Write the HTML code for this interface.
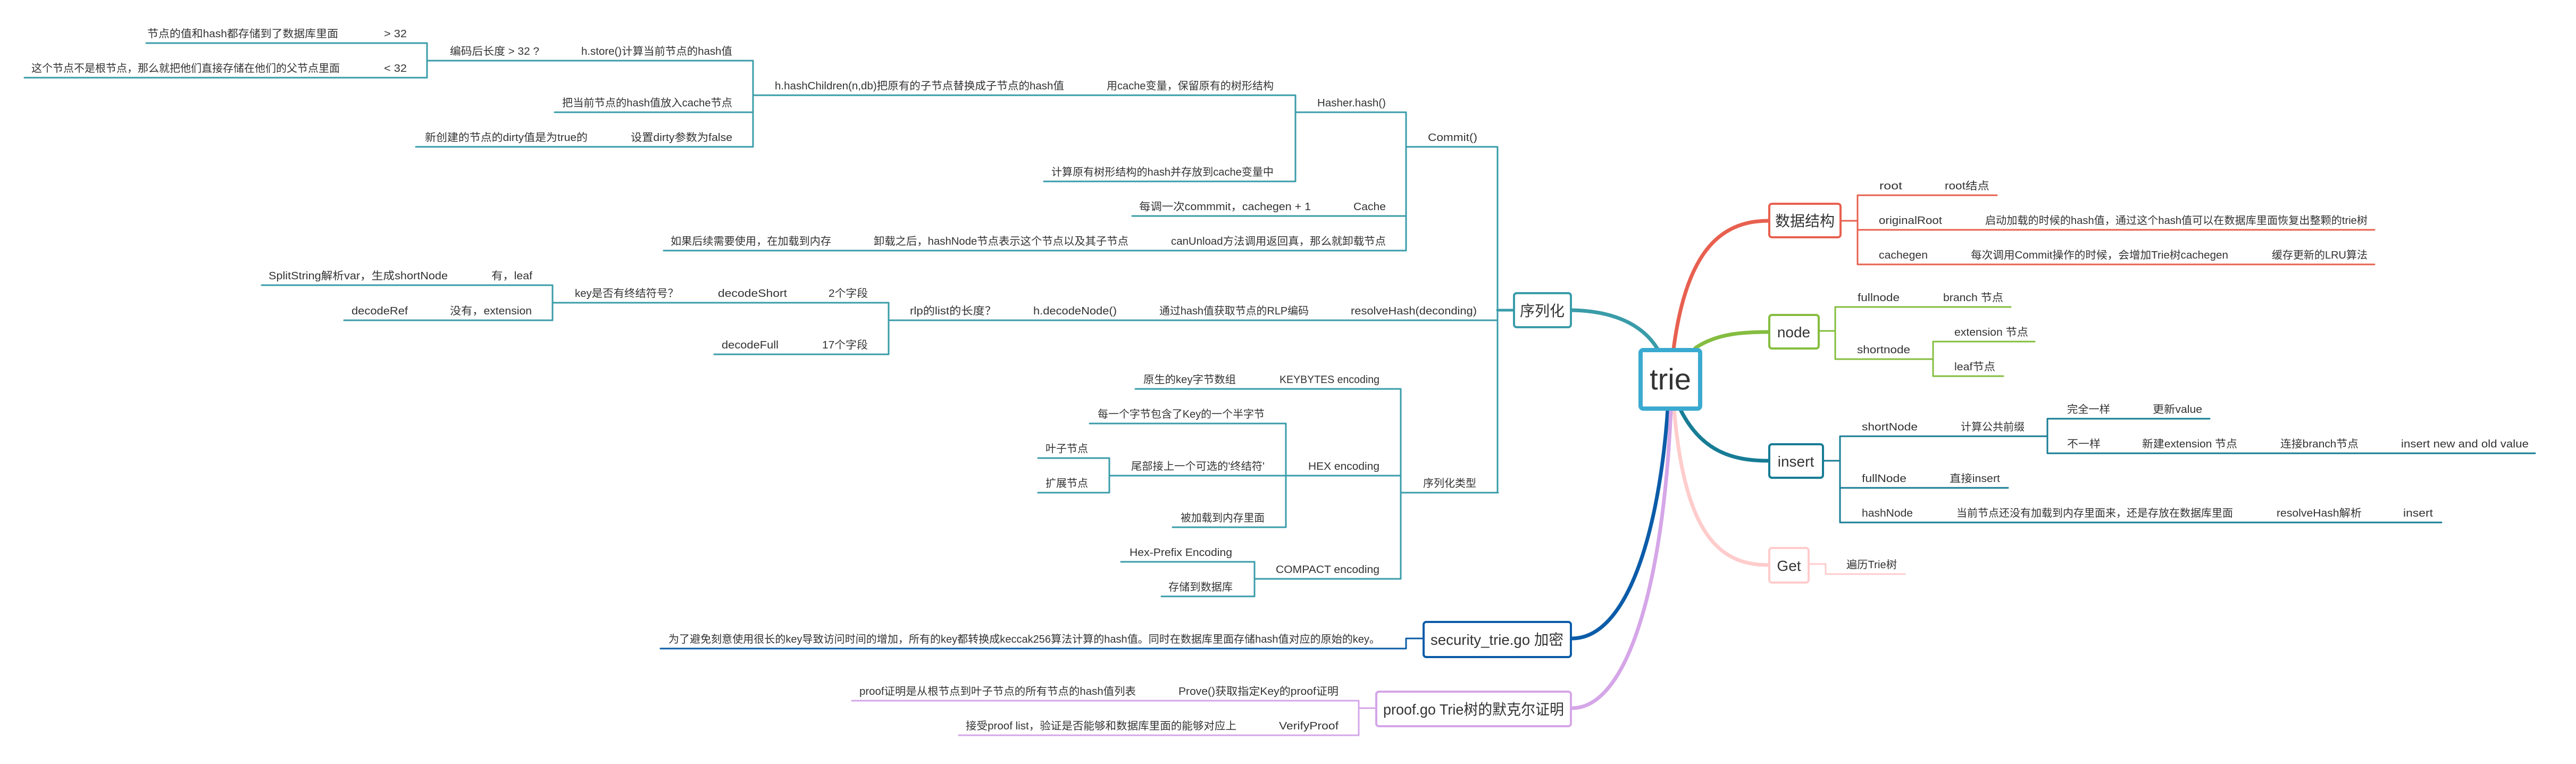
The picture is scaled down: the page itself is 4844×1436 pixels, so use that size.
<!DOCTYPE html>
<html><head><meta charset="utf-8"><style>
html,body{margin:0;padding:0;background:#fff;}
svg{display:block;}
text{font-family:"Liberation Sans","Noto Sans CJK SC",sans-serif;fill:#333;font-size:20px;}
.bx{font-size:28px;}
</style></head><body>
<svg width="4844" height="1436" viewBox="0 0 4844 1436" xmlns="http://www.w3.org/2000/svg">
<g fill="none" stroke-linecap="round" stroke-linejoin="round">
<!-- teal group -->
<g stroke="#3a9ca9" stroke-width="3">
<path d="M275,81H803M46,146H803M803,81V146M803,114H1416M1416,114V276M1416,179H2436M1043,211H1416M782,276H1416M2436,179V341M2436,211H2644M1963,341H2436M2644,211V471M2644,276H2816M2129,406H2644M1248,471H2644M2816,276V926"/>
<path d="M492,536H1039M647,602H1039M1039,536V602M1039,569H1671M1343,666H1671M1671,569V666M1671,602H2816"/>
<path d="M2135,731H2634M2634,731V1088M2049,796H2418M2418,796V991M2418,894H2634M2086,894H2418M1952,861H2086M1952,926H2086M2086,861V926M2205,991H2418M2108,1056H2359M2359,1056V1121M2359,1088H2634M2184,1121H2359M2634,926H2817"/>
<path d="M2816,583H2845" stroke-width="5"/>
</g>
<!-- security -->
<path d="M1242,1219H2644V1200H2675" stroke="#0b5ca8" stroke-width="3"/>
<!-- proof -->
<path d="M1602,1317H2555M1803,1382H2555M2555,1317V1382M2555,1331H2586" stroke="#d5a6e8" stroke-width="3"/>
<!-- red -->
<path d="M3463,415H3493M3493,367V497M3493,367H3755M3493,432H4465M3493,497H4465" stroke="#e8604f" stroke-width="3"/>
<!-- green -->
<path d="M3422,622H3451M3451,577V675M3451,577H3781M3451,675H3635M3635,642V707M3635,642H3826M3635,707H3767" stroke="#85bd40" stroke-width="3"/>
<!-- insert -->
<path d="M3430,866H3460M3460,820V982M3460,820H3850M3850,787V852M3850,787H4155M3850,852H4767M3460,917H3776M3460,982H4591" stroke="#177c95" stroke-width="3"/>
<!-- get -->
<path d="M3403,1060H3433V1079H3582" stroke="#ffcccc" stroke-width="3"/>
<!-- main curves -->
<path d="M2956,583C3050,585 3095,620 3117,656" stroke="#3a9ca9" stroke-width="7"/>
<path d="M3147,656C3170,480 3230,415 3325,415" stroke="#e8604f" stroke-width="7"/>
<path d="M3188,654C3230,626 3280,624 3325,624" stroke="#85bd40" stroke-width="7"/>
<path d="M3160,770C3200,850 3260,866 3325,866" stroke="#177c95" stroke-width="7"/>
<path d="M3148,770C3168,1000 3230,1062 3325,1062" stroke="#ffcccc" stroke-width="7"/>
<path d="M3136,770C3120,1000 3060,1200 2956,1200" stroke="#0b5ca8" stroke-width="7"/>
<path d="M3142,770C3128,1100 3060,1331 2956,1331" stroke="#d5a6e8" stroke-width="7"/>
</g>
<!-- boxes -->
<g stroke-width="4" fill="#fff">
<rect x="2847" y="551" width="107" height="64" rx="5" stroke="#3a9ca9"/>
<rect x="2677" y="1169" width="277" height="66" rx="5" stroke="#0b5ca8"/>
<rect x="2588" y="1300" width="366" height="65" rx="5" stroke="#d5a6e8"/>
<rect x="3327" y="383" width="134" height="63" rx="5" stroke="#e8604f"/>
<rect x="3327" y="592" width="93" height="63" rx="5" stroke="#85bd40"/>
<rect x="3327" y="835" width="101" height="63" rx="5" stroke="#177c95"/>
<rect x="3327" y="1030" width="74" height="65" rx="5" stroke="#ffcccc"/>
<rect x="3085" y="658" width="112" height="110" rx="5" stroke="#3aaad0" stroke-width="8"/>
</g>
<g text-anchor="middle">
<text class="bx" x="2900" y="594">序列化</text>
<text class="bx" x="2815" y="1212" textLength="250" lengthAdjust="spacingAndGlyphs">security_trie.go 加密</text>
<text class="bx" x="2771" y="1343" textLength="340" lengthAdjust="spacingAndGlyphs">proof.go Trie树的默克尔证明</text>
<text class="bx" x="3394" y="425">数据结构</text>
<text class="bx" x="3373" y="634">node</text>
<text class="bx" x="3377" y="877">insert</text>
<text class="bx" x="3364" y="1073">Get</text>
<text x="3141" y="732" style="font-size:56px">trie</text>
</g>
<g lengthAdjust="spacingAndGlyphs">
<text x="277" y="70" textLength="359" lengthAdjust="spacingAndGlyphs">节点的值和hash都存储到了数据库里面</text>
<text x="722" y="70" textLength="43" lengthAdjust="spacingAndGlyphs">&gt; 32</text>
<text x="59" y="135" textLength="580" lengthAdjust="spacingAndGlyphs">这个节点不是根节点，那么就把他们直接存储在他们的父节点里面</text>
<text x="722" y="135" textLength="43" lengthAdjust="spacingAndGlyphs">&lt; 32</text>
<text x="846" y="103" textLength="168" lengthAdjust="spacingAndGlyphs">编码后长度 &gt; 32 ?</text>
<text x="1093" y="103" textLength="284" lengthAdjust="spacingAndGlyphs">h.store()计算当前节点的hash值</text>
<text x="1457" y="168" textLength="544" lengthAdjust="spacingAndGlyphs">h.hashChildren(n,db)把原有的子节点替换成子节点的hash值</text>
<text x="2081" y="168" textLength="314" lengthAdjust="spacingAndGlyphs">用cache变量，保留原有的树形结构</text>
<text x="1057" y="200" textLength="320" lengthAdjust="spacingAndGlyphs">把当前节点的hash值放入cache节点</text>
<text x="799" y="265" textLength="306" lengthAdjust="spacingAndGlyphs">新创建的节点的dirty值是为true的</text>
<text x="1186" y="265" textLength="191" lengthAdjust="spacingAndGlyphs">设置dirty参数为false</text>
<text x="2477" y="200" textLength="129" lengthAdjust="spacingAndGlyphs">Hasher.hash()</text>
<text x="1977" y="330" textLength="418" lengthAdjust="spacingAndGlyphs">计算原有树形结构的hash并存放到cache变量中</text>
<text x="2685" y="265" textLength="93" lengthAdjust="spacingAndGlyphs">Commit()</text>
<text x="2142" y="395" textLength="323" lengthAdjust="spacingAndGlyphs">每调一次commmit，cachegen + 1</text>
<text x="2545" y="395" textLength="61" lengthAdjust="spacingAndGlyphs">Cache</text>
<text x="1261" y="460" textLength="302" lengthAdjust="spacingAndGlyphs">如果后续需要使用，在加载到内存</text>
<text x="1643" y="460" textLength="479" lengthAdjust="spacingAndGlyphs">卸载之后，hashNode节点表示这个节点以及其子节点</text>
<text x="2202" y="460" textLength="404" lengthAdjust="spacingAndGlyphs">canUnload方法调用返回真，那么就卸载节点</text>
<text x="505" y="525" textLength="337" lengthAdjust="spacingAndGlyphs">SplitString解析var，生成shortNode</text>
<text x="924" y="525" textLength="77" lengthAdjust="spacingAndGlyphs">有，leaf</text>
<text x="661" y="591" textLength="106" lengthAdjust="spacingAndGlyphs">decodeRef</text>
<text x="846" y="591" textLength="154" lengthAdjust="spacingAndGlyphs">没有，extension</text>
<text x="1081" y="558" textLength="195" lengthAdjust="spacingAndGlyphs">key是否有终结符号？</text>
<text x="1350" y="558" textLength="130" lengthAdjust="spacingAndGlyphs">decodeShort</text>
<text x="1558" y="558" textLength="74" lengthAdjust="spacingAndGlyphs">2个字段</text>
<text x="1357" y="655" textLength="107" lengthAdjust="spacingAndGlyphs">decodeFull</text>
<text x="1546" y="655" textLength="86" lengthAdjust="spacingAndGlyphs">17个字段</text>
<text x="1711" y="591" textLength="163" lengthAdjust="spacingAndGlyphs">rlp的list的长度？</text>
<text x="1943" y="591" textLength="157" lengthAdjust="spacingAndGlyphs">h.decodeNode()</text>
<text x="2180" y="591" textLength="281" lengthAdjust="spacingAndGlyphs">通过hash值获取节点的RLP编码</text>
<text x="2540" y="591" textLength="237" lengthAdjust="spacingAndGlyphs">resolveHash(deconding)</text>
<text x="2150" y="720" textLength="174" lengthAdjust="spacingAndGlyphs">原生的key字节数组</text>
<text x="2406" y="720" textLength="188" lengthAdjust="spacingAndGlyphs">KEYBYTES encoding</text>
<text x="2064" y="785" textLength="314" lengthAdjust="spacingAndGlyphs">每一个字节包含了Key的一个半字节</text>
<text x="2460" y="883" textLength="134" lengthAdjust="spacingAndGlyphs">HEX encoding</text>
<text x="2127" y="883" textLength="251" lengthAdjust="spacingAndGlyphs">尾部接上一个可选的'终结符'</text>
<text x="1966" y="850" textLength="80" lengthAdjust="spacingAndGlyphs">叶子节点</text>
<text x="1966" y="915" textLength="80" lengthAdjust="spacingAndGlyphs">扩展节点</text>
<text x="2220" y="980" textLength="158" lengthAdjust="spacingAndGlyphs">被加载到内存里面</text>
<text x="2124" y="1045" textLength="193" lengthAdjust="spacingAndGlyphs">Hex-Prefix Encoding</text>
<text x="2399" y="1077" textLength="195" lengthAdjust="spacingAndGlyphs">COMPACT encoding</text>
<text x="2197" y="1110" textLength="121" lengthAdjust="spacingAndGlyphs">存储到数据库</text>
<text x="2676" y="915" textLength="100" lengthAdjust="spacingAndGlyphs">序列化类型</text>
<text x="1257" y="1208" textLength="1338" lengthAdjust="spacingAndGlyphs">为了避免刻意使用很长的key导致访问时间的增加，所有的key都转换成keccak256算法计算的hash值。同时在数据库里面存储hash值对应的原始的key。</text>
<text x="1616" y="1306" textLength="520" lengthAdjust="spacingAndGlyphs">proof证明是从根节点到叶子节点的所有节点的hash值列表</text>
<text x="2216" y="1306" textLength="301" lengthAdjust="spacingAndGlyphs">Prove()获取指定Key的proof证明</text>
<text x="1816" y="1371" textLength="509" lengthAdjust="spacingAndGlyphs">接受proof list，验证是否能够和数据库里面的能够对应上</text>
<text x="2405" y="1371" textLength="112" lengthAdjust="spacingAndGlyphs">VerifyProof</text>
<text x="3534" y="356" textLength="43" lengthAdjust="spacingAndGlyphs">root</text>
<text x="3657" y="356" textLength="84" lengthAdjust="spacingAndGlyphs">root结点</text>
<text x="3533" y="421" textLength="119" lengthAdjust="spacingAndGlyphs">originalRoot</text>
<text x="3733" y="421" textLength="719" lengthAdjust="spacingAndGlyphs">启动加载的时候的hash值，通过这个hash值可以在数据库里面恢复出整颗的trie树</text>
<text x="3533" y="486" textLength="92" lengthAdjust="spacingAndGlyphs">cachegen</text>
<text x="3706" y="486" textLength="484" lengthAdjust="spacingAndGlyphs">每次调用Commit操作的时候，会增加Trie树cachegen</text>
<text x="4272" y="486" textLength="180" lengthAdjust="spacingAndGlyphs">缓存更新的LRU算法</text>
<text x="3493" y="566" textLength="79" lengthAdjust="spacingAndGlyphs">fullnode</text>
<text x="3654" y="566" textLength="113" lengthAdjust="spacingAndGlyphs">branch 节点</text>
<text x="3492" y="664" textLength="100" lengthAdjust="spacingAndGlyphs">shortnode</text>
<text x="3675" y="631" textLength="139" lengthAdjust="spacingAndGlyphs">extension 节点</text>
<text x="3675" y="696" textLength="77" lengthAdjust="spacingAndGlyphs">leaf节点</text>
<text x="3501" y="809" textLength="105" lengthAdjust="spacingAndGlyphs">shortNode</text>
<text x="3687" y="809" textLength="120" lengthAdjust="spacingAndGlyphs">计算公共前缀</text>
<text x="3887" y="776" textLength="81" lengthAdjust="spacingAndGlyphs">完全一样</text>
<text x="4048" y="776" textLength="93" lengthAdjust="spacingAndGlyphs">更新value</text>
<text x="3887" y="841" textLength="63" lengthAdjust="spacingAndGlyphs">不一样</text>
<text x="4028" y="841" textLength="179" lengthAdjust="spacingAndGlyphs">新建extension 节点</text>
<text x="4288" y="841" textLength="147" lengthAdjust="spacingAndGlyphs">连接branch节点</text>
<text x="4515" y="841" textLength="240" lengthAdjust="spacingAndGlyphs">insert new and old value</text>
<text x="3501" y="906" textLength="84" lengthAdjust="spacingAndGlyphs">fullNode</text>
<text x="3666" y="906" textLength="95" lengthAdjust="spacingAndGlyphs">直接insert</text>
<text x="3501" y="971" textLength="96" lengthAdjust="spacingAndGlyphs">hashNode</text>
<text x="3679" y="971" textLength="520" lengthAdjust="spacingAndGlyphs">当前节点还没有加载到内存里面来，还是存放在数据库里面</text>
<text x="4281" y="971" textLength="160" lengthAdjust="spacingAndGlyphs">resolveHash解析</text>
<text x="4519" y="971" textLength="56" lengthAdjust="spacingAndGlyphs">insert</text>
<text x="3472" y="1068" textLength="95" lengthAdjust="spacingAndGlyphs">遍历Trie树</text>
</g>
</svg>
</body></html>
